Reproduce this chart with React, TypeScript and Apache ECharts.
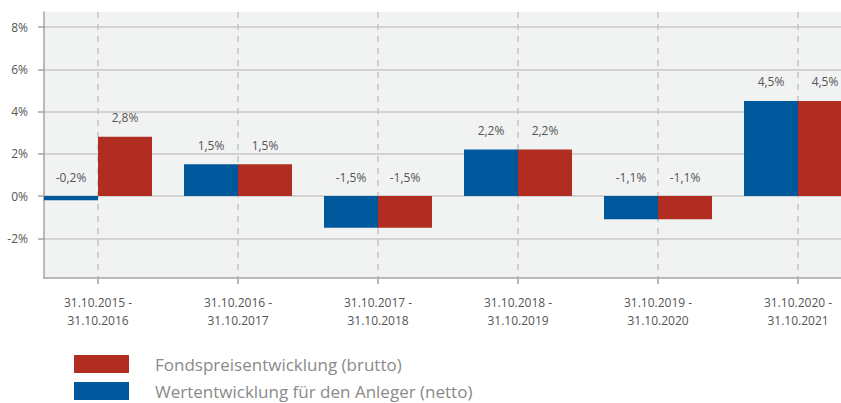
import React, { useEffect, useRef } from "react";
import * as echarts from "echarts";

const categories = [
  "31.10.2015 -\n31.10.2016",
  "31.10.2016 -\n31.10.2017",
  "31.10.2017 -\n31.10.2018",
  "31.10.2018 -\n31.10.2019",
  "31.10.2019 -\n31.10.2020",
  "31.10.2020 -\n31.10.2021",
];
const nettoName = "Wertentwicklung für den Anleger (netto)";
const bruttoName = "Fondspreisentwicklung (brutto)";
const netto = [-0.2, 1.5, -1.5, 2.2, -1.1, 4.5];
const brutto = [2.8, 1.5, -1.5, 2.2, -1.1, 4.5];
const yTicks = [-2, 0, 2, 4, 6, 8];
const yMin = -3.88;
const yMax = 8.71;

const FONT = "Open Sans";
const fmt = (v: number) => v.toFixed(1).replace(".", ",") + "%";

export default function App() {
  const ref = useRef<HTMLDivElement>(null);
  useEffect(() => {
    if (!ref.current) return;
    const chart = echarts.init(ref.current, undefined, { renderer: "svg" });
    const top = 12;
    const bottom = 125;
    const label = {
      show: true,
      position: "top",
      distance: 13,
      fontFamily: FONT,
      fontSize: 12,
      color: "#555",
      formatter: (p: any) => fmt(p.value),
    };
    const legendBase = {
      orient: "vertical",
      left: 74,
      padding: 0,
      itemWidth: 55,
      itemHeight: 18,
      icon: "rect",
      selectedMode: false,
      textStyle: {
        fontFamily: FONT,
        fontSize: 17,
        lineHeight: 14,
        color: "#8a8a8a",
        padding: [0, 0, 0, 21],
      },
    };
    chart.setOption({
      animation: false,
      textStyle: { fontFamily: FONT },
      legend: [
        { ...legendBase, top: 355, data: [bruttoName] },
        { ...legendBase, top: 382, data: [nettoName] },
      ],
      grid: [
        { left: 44, right: 0, top, bottom, show: true, backgroundColor: "#f1f2f2", borderWidth: 0 },
        { left: 98, width: 700, top, bottom },
      ],
      xAxis: [
        {
          type: "value",
          gridIndex: 0,
          min: 0,
          max: 1,
          axisLine: { show: true, onZero: false, lineStyle: { color: "#a5a5a5", width: 1.5 } },
          axisTick: { show: false },
          axisLabel: { show: false },
          splitLine: { show: false },
        },
        {
          type: "category",
          gridIndex: 1,
          data: categories,
          boundaryGap: false,
          axisLine: { show: false, onZero: false },
          axisTick: { show: true, length: 6, lineStyle: { color: "#a5a5a5", width: 1.5 } },
          axisLabel: {
            show: true,
            interval: 0,
            margin: 15,
            fontFamily: FONT,
            fontSize: 12,
            lineHeight: 18,
            color: "#555",
          },
          splitLine: { show: true, lineStyle: { color: "#c4c4c4", width: 1.5, type: [6, 6] } },
        },
      ],
      yAxis: [
        {
          type: "value",
          gridIndex: 0,
          min: yMin,
          max: yMax,
          axisLine: { show: true, lineStyle: { color: "#a5a5a5", width: 1.5 } },
          axisTick: { show: true, length: 6, customValues: yTicks, lineStyle: { color: "#a5a5a5", width: 1.5 } },
          axisLabel: {
            show: true,
            customValues: yTicks,
            margin: 16,
            fontFamily: FONT,
            fontSize: 12,
            color: "#555",
            formatter: (v: number) => v + "%",
          },
          splitLine: { show: true, lineStyle: { color: "#c8c8c8", width: 1.5 } },
        },
        {
          type: "value",
          gridIndex: 1,
          min: yMin,
          max: yMax,
          show: false,
          splitLine: { show: false },
        },
      ],
      series: [
        {
          name: nettoName,
          type: "bar",
          xAxisIndex: 1,
          yAxisIndex: 1,
          data: netto,
          barWidth: 54,
          barGap: "0%",
          clip: false,
          itemStyle: { color: "#00589c" },
          label,
          z: 3,
        },
        {
          name: bruttoName,
          type: "bar",
          xAxisIndex: 1,
          yAxisIndex: 1,
          data: brutto,
          barWidth: 54,
          barGap: "0%",
          clip: false,
          itemStyle: { color: "#b12c21" },
          label,
          z: 3,
        },
      ],
    });
    return () => chart.dispose();
  }, []);
  return (
    <div
      ref={ref}
      style={{ position: "absolute", left: 0, top: 0, width: 841, height: 403 }}
    />
  );
}
